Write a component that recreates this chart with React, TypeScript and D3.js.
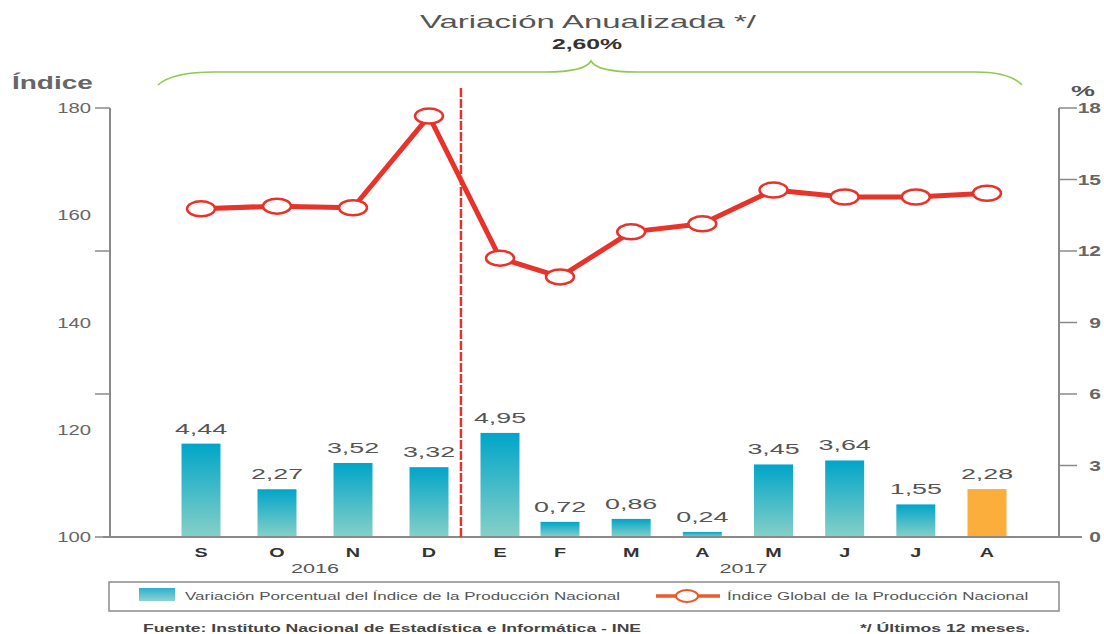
import React from "react";
import * as d3 from "d3";

const MONTHS = ["S", "O", "N", "D", "E", "F", "M", "A", "M", "J", "J", "A"];
const YEARS = [
  { label: "2016", from: 0, to: 3 },
  { label: "2017", from: 4, to: 11 },
];
const VARIATION = [4.44, 2.27, 3.52, 3.32, 4.95, 0.72, 0.86, 0.24, 3.45, 3.64, 1.55, 2.28];
const INDEX = [161.2, 161.7, 161.4, 178.5, 152.0, 148.5, 156.9, 158.4, 164.7, 163.4, 163.4, 164.1];
const LEFT_LABELS = [100, 120, 140, 160, 180];
const RIGHT_TICKS = [0, 3, 6, 9, 12, 15, 18];

const W = 1104;
const H = 634;
const FONT = "'Liberation Sans', Arial, sans-serif";
const RED = "#e8332a";
const GRAY = "#8a8a8a";

const fmt = (v: number) => v.toFixed(2).replace(".", ",");

// the source image is stretched sideways, so text gets a horizontal scale
function T(props: {
  x: number;
  y: number;
  sx: number;
  size: number;
  anchor?: "start" | "middle" | "end";
  fill?: string;
  weight?: number | string;
  children: React.ReactNode;
}) {
  const { x, y, sx, size, anchor = "start", fill = "#555", weight = 400, children } = props;
  return (
    <text
      transform={`translate(${x},${y}) scale(${sx},1)`}
      textAnchor={anchor}
      fontSize={size}
      fill={fill}
      fontWeight={weight}
    >
      {children}
    </text>
  );
}

export default function App() {
  // month positions are not evenly spaced in the source
  const x = d3.scaleLinear().domain([0, 3, 4, 5, 11]).range([201, 429, 500, 560, 987]);
  const barW = 39;

  const yLeft = d3.scaleLinear().domain([100, 180]).range([537, 108]);
  const yRight = d3.scaleLinear().domain([0, 18]).range([537, 108]);
  // bars in the source are drawn a little shorter than the % axis
  const yBar = d3.scaleLinear().domain([0, 20.4]).range([537, 108]);

  const line = d3
    .line<number>()
    .x((_, i) => x(i))
    .y((d) => yLeft(d));

  // left axis tick marks follow every second right-axis tick
  const leftMarks = [0, 6, 12, 18].map((v) => yRight(v));

  const splitX = x(3.45);

  return (
    <svg
      width={W}
      height={H}
      style={{ position: "absolute", left: 0, top: 0, background: "#fff" }}
      fontFamily={FONT}
    >
      <defs>
        <linearGradient id="barGrad" x1="0" y1="0" x2="0" y2="1">
          <stop offset="0%" stopColor="#00a5c9" />
          <stop offset="100%" stopColor="#86d0c7" />
        </linearGradient>
        <linearGradient id="legGrad" x1="0" y1="0" x2="0" y2="1">
          <stop offset="0%" stopColor="#2eaed0" />
          <stop offset="100%" stopColor="#8ed3cd" />
        </linearGradient>
      </defs>

      {/* Title */}
      <T x={588} y={28} sx={1.78} size={18.5} anchor="middle" fill="#555">
        Variación Anualizada */
      </T>
      <T x={587} y={49} sx={1.6} size={15.5} anchor="middle" fill="#333" weight={600}>
        2,60%
      </T>

      {/* Bracket */}
      <path
        d="M158,85 Q172,72 215,72 L545,72 Q585,72 591,61 Q597,72 637,72 L975,72 Q1010,72 1022,85"
        fill="none"
        stroke="#92c850"
        strokeWidth={1.6}
      />

      {/* Axis titles */}
      <T x={12} y={89} sx={1.6} size={17.5} fill="#666" weight={700}>
        Índice
      </T>
      <T x={1083} y={96} sx={1.8} size={15} anchor="middle" fill="#555" weight={600}>
        %
      </T>

      {/* Left axis */}
      <line x1={110} x2={110} y1={108} y2={537} stroke={GRAY} strokeWidth={2} />
      {leftMarks.map((y, i) => (
        <line key={i} x1={95} x2={110} y1={y} y2={y} stroke={GRAY} strokeWidth={1.5} />
      ))}
      {LEFT_LABELS.map((v) => (
        <T key={v} x={91} y={yLeft(v) + 5} sx={1.45} size={14} anchor="end" fill="#666">
          {v}
        </T>
      ))}

      {/* Right axis */}
      <line x1={1059} x2={1059} y1={108} y2={537} stroke={GRAY} strokeWidth={2} />
      {RIGHT_TICKS.map((v) => (
        <g key={v}>
          <line x1={1059} x2={1077} y1={yRight(v)} y2={yRight(v)} stroke={GRAY} strokeWidth={1.5} />
          <T x={1101} y={yRight(v) + 5} sx={1.5} size={14} anchor="end" fill="#666" weight={600}>
            {v}
          </T>
        </g>
      ))}

      {/* Bars */}
      {VARIATION.map((v, i) => (
        <g key={i}>
          <rect
            x={x(i) - barW / 2}
            y={yBar(v)}
            width={barW}
            height={yBar(0) - yBar(v)}
            fill={i === VARIATION.length - 1 ? "#fbae3c" : "url(#barGrad)"}
          />
          <T x={x(i)} y={yBar(v) - 10} sx={1.85} size={14.5} anchor="middle" fill="#555">
            {fmt(v)}
          </T>
        </g>
      ))}

      {/* Baseline */}
      <line x1={103} x2={1082} y1={537} y2={537} stroke={GRAY} strokeWidth={2} />

      {/* Year split */}
      <line x1={splitX} x2={splitX} y1={88} y2={537} stroke={RED} strokeWidth={2.5} strokeDasharray="9 2" />

      {/* Index line */}
      <path d={line(INDEX) ?? ""} fill="none" stroke={RED} strokeWidth={5} strokeLinejoin="round" />
      {INDEX.map((v, i) => (
        <ellipse key={i} cx={x(i)} cy={yLeft(v)} rx={14} ry={7.5} fill="#fff" stroke={RED} strokeWidth={2.5} />
      ))}

      {/* Month labels */}
      {MONTHS.map((m, i) => (
        <T key={i} x={x(i)} y={557} sx={1.65} size={12} anchor="middle" weight={700} fill="#333">
          {m}
        </T>
      ))}
      {YEARS.map((yr) => (
        <T
          key={yr.label}
          x={(x(yr.from) + x(yr.to)) / 2}
          y={573}
          sx={1.6}
          size={13.5}
          anchor="middle"
          fill="#555"
        >
          {yr.label}
        </T>
      ))}

      {/* Legend */}
      <rect x={109} y={582} width={950} height={29} fill="#fff" stroke={GRAY} strokeWidth={1.5} />
      <rect x={139} y={588} width={36} height={13} fill="url(#legGrad)" />
      <T x={185} y={600} sx={1.7} size={10} fill="#555">
        Variación Porcentual del Índice de la Producción Nacional
      </T>
      <line x1={656} x2={720} y1={596} y2={596} stroke="#ea5a2a" strokeWidth={3.5} />
      <ellipse cx={687} cy={596} rx={11} ry={6} fill="#fff" stroke="#ea5a2a" strokeWidth={2} />
      <T x={727} y={600} sx={1.7} size={10} fill="#555">
        Índice Global de la Producción Nacional
      </T>

      {/* Footer */}
      <T x={143} y={632} sx={1.6} size={11} fill="#444" weight={700}>
        Fuente: Instituto Nacional de Estadística e Informática - INE
      </T>
      <T x={860} y={632} sx={1.6} size={11} fill="#444" weight={700}>
        */ Últimos 12 meses.
      </T>
    </svg>
  );
}
